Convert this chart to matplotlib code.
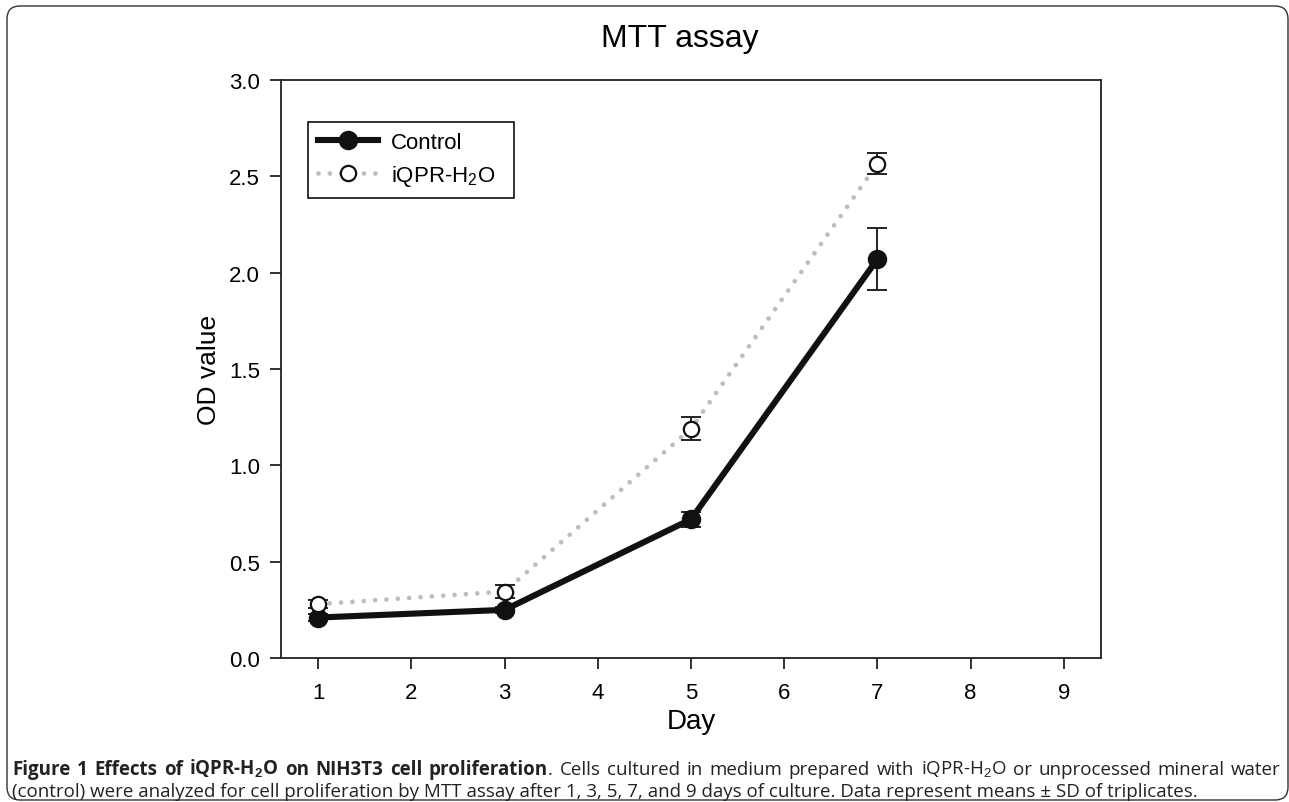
import matplotlib
matplotlib.use("Agg")
import matplotlib.pyplot as plt
from matplotlib.patches import FancyBboxPatch
from matplotlib.transforms import IdentityTransform

plt.rcParams['font.family'] = ['Liberation Sans', 'DejaVu Sans']
plt.rcParams['mathtext.fontset'] = 'custom'
plt.rcParams['mathtext.rm'] = 'Liberation Sans'
plt.rcParams['mathtext.bf'] = 'Liberation Sans:bold'

# ---- data ----
days = [1, 3, 5, 7]
control = [0.21, 0.25, 0.72, 2.07]
control_sd = [0.02, 0.015, 0.04, 0.16]
iqpr = [0.28, 0.345, 1.19, 2.565]
iqpr_sd = [0.02, 0.035, 0.06, 0.055]
xticks = [1, 2, 3, 4, 5, 6, 7, 8, 9]
yticks = [0.0, 0.5, 1.0, 1.5, 2.0, 2.5, 3.0]
title = "MTT assay"
xlabel = "Day"
ylabel = "OD value"
labels = ["Control", "iQPR-H$_2$O"]

W, H = 1289, 803
fig = plt.figure(figsize=(W / 100, H / 100), dpi=100)
ax = fig.add_axes([281 / W, 1 - 659 / H, (1101 - 281) / W, (659 - 81) / H])

# iQPR series (dotted gray, open circles)
ax.plot(days, iqpr, linestyle=(0, (0.01, 2.4)), dash_capstyle='round',
        color='#bdbdbd', lw=3.4, zorder=2)
ax.errorbar(days, iqpr, yerr=iqpr_sd, fmt='none', ecolor='#222222',
            elinewidth=1.4, capsize=7, capthick=1.4, zorder=3)
# Control series
ax.errorbar(days, control, yerr=control_sd, fmt='none', ecolor='#222222',
            elinewidth=1.4, capsize=7, capthick=1.4, zorder=3)
ax.plot(days, control, '-', color='#111111', lw=4.4, solid_capstyle='round',
        marker='o', ms=13, mfc='#111111', mec='#111111', zorder=4)
ax.plot(days, iqpr, linestyle='none', marker='o', ms=11, mfc='white',
        mec='#111111', mew=1.6, zorder=5)

# legend proxies
h1, = ax.plot([], [], '-', color='#111111', lw=4.4, marker='o', ms=13)
h2, = ax.plot([], [], linestyle=(0, (0.01, 2.4)), dash_capstyle='round',
              color='#bdbdbd', lw=3.4, marker='o', ms=11, mfc='white',
              mec='#111111', mew=1.6)
leg = ax.legend([h1, h2], labels, loc='upper left',
                bbox_to_anchor=(27 / 820, 1 - 48 / 578, 206 / 820, 0.01),
                mode='expand', fontsize=16, frameon=True, fancybox=False,
                edgecolor='#111111', framealpha=1, handlelength=2.7,
                handletextpad=0.6, borderpad=0.45, labelspacing=0.45,
                borderaxespad=0)
leg.get_frame().set_linewidth(1.2)

ax.set_xlim(0.6, 9.4)
ax.set_ylim(0, 3.0)
ax.set_xticks(xticks)
ax.set_yticks(yticks)
ax.set_yticklabels([f"{v:.1f}" for v in yticks])
ax.tick_params(direction='out', length=8, width=1.3, labelsize=16,
               color='#222222', top=False, right=False)
ax.tick_params(axis='x', pad=9)
ax.tick_params(axis='y', pad=7)
for s in ax.spines.values():
    s.set_linewidth(1.3)
    s.set_color('#222222')

ax.set_xlabel(xlabel, fontsize=20, labelpad=4)
ax.set_ylabel(ylabel, fontsize=19, labelpad=6)
fig.text(680 / W, 1 - 47 / H, title, ha='center', va='baseline', fontsize=23)

# rounded frame
frame = FancyBboxPatch((7, 2), 1281, 794, boxstyle='round,pad=0,rounding_size=13',
                       transform=IdentityTransform(), fill=False,
                       edgecolor='#333333', lw=1.0)
fig.add_artist(frame)

# ---- caption ----
cap_line1 = [("Figure", 'bold', False), ("1", 'bold', False), ("Effects", 'bold', False),
             ("of", 'bold', False), ("iQPR-H$_\\mathbf{2}$O", 'bold', False), ("on", 'bold', False),
             ("NIH3T3", 'bold', False), ("cell", 'bold', False), ("proliferation", 'bold', False),
             (".", 'normal', True), ("Cells", 'normal', False), ("cultured", 'normal', False),
             ("in", 'normal', False), ("medium", 'normal', False), ("prepared", 'normal', False),
             ("with", 'normal', False), ("iQPR-H$_2$O", 'normal', False), ("or", 'normal', False),
             ("unprocessed", 'normal', False), ("mineral", 'normal', False), ("water", 'normal', False)]
cap_line2 = "(control) were analyzed for cell proliferation by MTT assay after 1, 3, 5, 7, and 9 days of culture. Data represent means \u00b1 SD of triplicates."

cap_font = ['Open Sans', 'DejaVu Sans']
cap_size = 12.0
renderer = fig.canvas.get_renderer()


def width_of(t, weight, size):
    tt = fig.text(0, 0, t, fontsize=size, fontweight=weight, family=cap_font)
    w = tt.get_window_extent(renderer).width
    tt.remove()
    return w

# fit font size so line 2 spans ~12..1195 px
w2 = width_of(cap_line2, 'normal', cap_size)
cap_size = cap_size * (1195 - 12) / w2

x0, x1 = 12, 1281
y1 = H - 775
y2 = H - 797
widths = [width_of(t, wt, cap_size) for t, wt, _ in cap_line1]
n_gaps = sum(1 for _, _, att in cap_line1[1:] if not att)
gap = (x1 - x0 - sum(widths)) / n_gaps
x = x0
for i, ((t, wt, att), w) in enumerate(zip(cap_line1, widths)):
    if i > 0 and not att:
        x += gap
    fig.text(x / W, y1 / H, t, fontsize=cap_size, fontweight=wt, family=cap_font,
             ha='left', va='baseline', color='#222222')
    x += w
fig.text(x0 / W, y2 / H, cap_line2, fontsize=cap_size, family=cap_font,
         ha='left', va='baseline', color='#222222')

fig.savefig('out.png', dpi=100)
